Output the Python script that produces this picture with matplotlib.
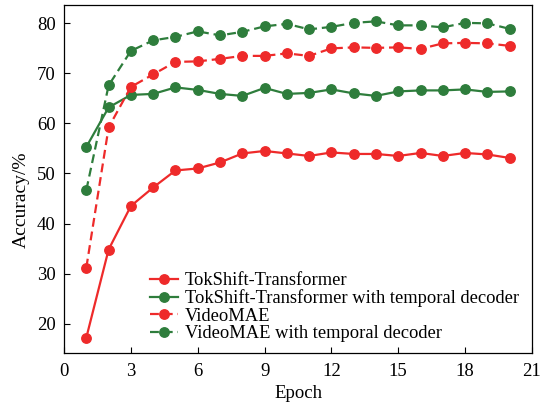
import matplotlib
matplotlib.use("Agg")
import matplotlib.pyplot as plt

plt.rcParams["font.family"] = ["Liberation Serif", "DejaVu Serif"]
plt.rcParams["mathtext.fontset"] = "stix"

epochs = list(range(1, 21))

tokshift = [17.2, 34.8, 43.5, 47.2, 50.6, 51.0, 52.2, 54.0, 54.5, 54.0,
            53.5, 54.2, 53.9, 53.9, 53.5, 54.1, 53.5, 54.1, 53.8, 53.1]
tokshift_dec = [55.3, 63.2, 65.7, 65.9, 67.2, 66.7, 65.9, 65.5, 67.1, 65.9,
                66.1, 66.8, 66.0, 65.5, 66.4, 66.6, 66.6, 66.8, 66.3, 66.4]
videomae = [31.2, 59.2, 67.3, 69.8, 72.3, 72.4, 72.9, 73.5, 73.5, 74.0,
            73.5, 75.0, 75.2, 75.1, 75.2, 74.9, 76.0, 76.1, 76.0, 75.5]
videomae_dec = [46.7, 67.6, 74.5, 76.6, 77.3, 78.4, 77.6, 78.3, 79.4, 79.9,
                78.8, 79.3, 80.1, 80.4, 79.6, 79.6, 79.2, 80.1, 80.0, 78.9]

labels = ["TokShift-Transformer",
          "TokShift-Transformer with temporal decoder",
          "VideoMAE",
          "VideoMAE with temporal decoder"]
xticks = [0, 3, 6, 9, 12, 15, 18, 21]
yticks = [20, 30, 40, 50, 60, 70, 80]

RED = "#ee2a2a"
GREEN = "#2e7d3c"

fig = plt.figure(figsize=(5.57, 4.04), dpi=100)
ax = fig.add_axes([0.115, 0.126, 0.840, 0.862])

kw = dict(marker="o", markersize=6.8, linewidth=1.6)
ax.plot(epochs, tokshift, color=RED, linestyle="-", label=labels[0], **kw)
ax.plot(epochs, tokshift_dec, color=GREEN, linestyle="-", label=labels[1], **kw)
ax.plot(epochs, videomae, color=RED, linestyle=(0, (4, 2.2)), label=labels[2], **kw)
ax.plot(epochs, videomae_dec, color=GREEN, linestyle=(0, (4, 2.2)), label=labels[3], **kw)

ax.set_xlim(0, 21)
ax.set_ylim(14.1, 83.7)
ax.set_xticks(xticks)
ax.set_yticks(yticks)
ax.tick_params(direction="in", length=4, width=0.8, labelsize=13.5)
ax.tick_params(axis="x", pad=7)
ax.tick_params(axis="y", pad=6)
for s in ax.spines.values():
    s.set_linewidth(0.9)

ax.set_xlabel("Epoch", fontsize=13.5, labelpad=4)
ax.set_ylabel("Accuracy/%", fontsize=14)
ax.yaxis.set_label_coords(-0.073, 0.44)

ax.legend(loc="lower left", bbox_to_anchor=(0.16, 0.0), frameon=False,
          fontsize=13.3, handlelength=1.5, handletextpad=0.4, labelspacing=0.02,
          borderaxespad=0.2)

fig.savefig("out.png", dpi=100)
